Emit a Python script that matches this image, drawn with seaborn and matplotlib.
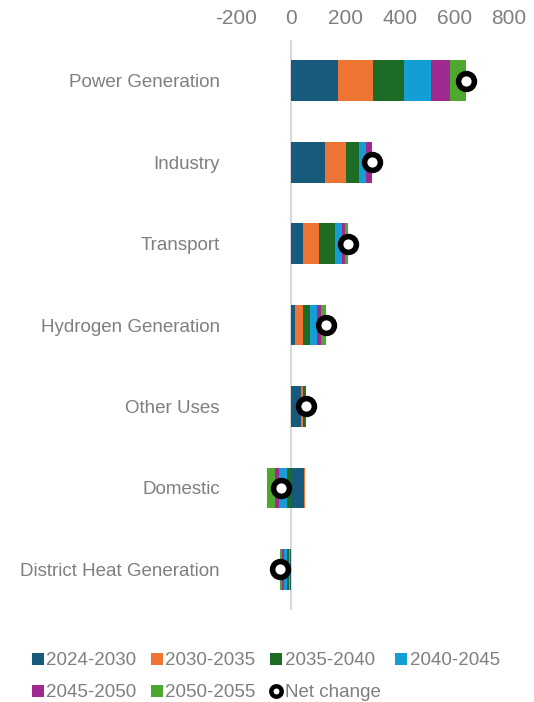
import matplotlib
matplotlib.use("Agg")
import matplotlib.pyplot as plt
from matplotlib.lines import Line2D
import seaborn as sns
import numpy as np
import pandas as pd

# categories top to bottom
sectors = ["Power Generation", "Industry", "Transport", "Hydrogen Generation",
           "Other Uses", "Domestic", "District Heat Generation"]
periods = ["2024-2030", "2030-2035", "2035-2040", "2040-2045", "2045-2050", "2050-2055"]

# change per period for each sector
p2024_2030 = [174, 125, 45, 15, 36, 49, -3]
p2030_2035 = [128, 77, 59, 28, 9, 2, -3]
p2035_2040 = [114, 49, 57, 27, 6, -16, -8]
p2040_2045 = [97, 24, 25, 24, 2, -27, -10]
p2045_2050 = [70, 21, 13, 16, 1, -16, -8]
p2050_2055 = [60, 3, 11, 17, 1, -28, -10]
net_change = [643, 299, 210, 127, 55, -36, -42]

colors = ["#175a7b", "#ed7433", "#1d6b24", "#139fd6", "#a0298f", "#4ea72e"]
grey = "#7f7f7f"

sns.set_theme(style="white")
plt.rcParams["font.family"] = ["Liberation Sans", "DejaVu Sans"]
plt.rcParams["axes.unicode_minus"] = False

df = pd.DataFrame({"sector": sectors,
                   "2024-2030": p2024_2030, "2030-2035": p2030_2035,
                   "2035-2040": p2035_2040, "2040-2045": p2040_2045,
                   "2045-2050": p2045_2050, "2050-2055": p2050_2055,
                   "net": net_change})

fig = plt.figure(figsize=(5.34, 7.02), dpi=100)
ax = fig.add_axes([0.443, 0.131, 0.51, 0.812])

# stacked bars: positives stack right of zero, negatives left
ypos = np.arange(len(sectors))
pos_base = np.zeros(len(sectors))
neg_base = np.zeros(len(sectors))
for per, col in zip(periods, colors):
    vals = df[per].to_numpy(dtype=float)
    left = np.where(vals >= 0, pos_base, neg_base)
    ax.barh(ypos, vals, left=left, height=0.5, color=col, linewidth=0)
    pos_base += np.clip(vals, 0, None)
    neg_base += np.clip(vals, None, 0)

ax.axvline(0, color="#d9d9d9", linewidth=1.5, zorder=0)

sns.scatterplot(x=df["net"], y=ypos, ax=ax, s=130, color="white",
                edgecolor="black", linewidth=4, zorder=5, legend=False)

ax.set_xlim(-200, 800)
ax.set_ylim(len(sectors) - 0.5, -0.5)
ax.set_xticks([-200, 0, 200, 400, 600, 800])
ax.set_yticks(ypos)
ax.set_yticklabels(sectors)
ax.xaxis.tick_top()
ax.tick_params(axis="x", length=0, pad=9, labelsize=15, colors=grey)
ax.tick_params(axis="y", length=0, pad=12, labelsize=13.5, colors=grey)
ax.set_xlabel("")
ax.set_ylabel("")
for s in ax.spines.values():
    s.set_visible(False)

handles = [Line2D([], [], marker="s", linestyle="none", markersize=8.5,
                  markerfacecolor=c, markeredgewidth=0) for c in colors]
handles.append(Line2D([], [], marker="o", linestyle="none", markersize=7.5,
                      markerfacecolor="white", markeredgecolor="black",
                      markeredgewidth=3.2))
labels = periods + ["Net change"]
# matplotlib fills legend column-wise; reorder so rows read left to right
order = [0, 4, 1, 5, 2, 6, 3]
fig.legend([handles[i] for i in order], [labels[i] for i in order],
           loc="upper left", bbox_to_anchor=(0.06, 0.071),
           bbox_transform=fig.transFigure, ncol=4, frameon=False,
           fontsize=13.5, labelcolor=grey, handlelength=0.6, handletextpad=0.15,
           columnspacing=0.8, borderpad=0, borderaxespad=0, labelspacing=0.8)

fig.savefig("out.png", dpi=100)
